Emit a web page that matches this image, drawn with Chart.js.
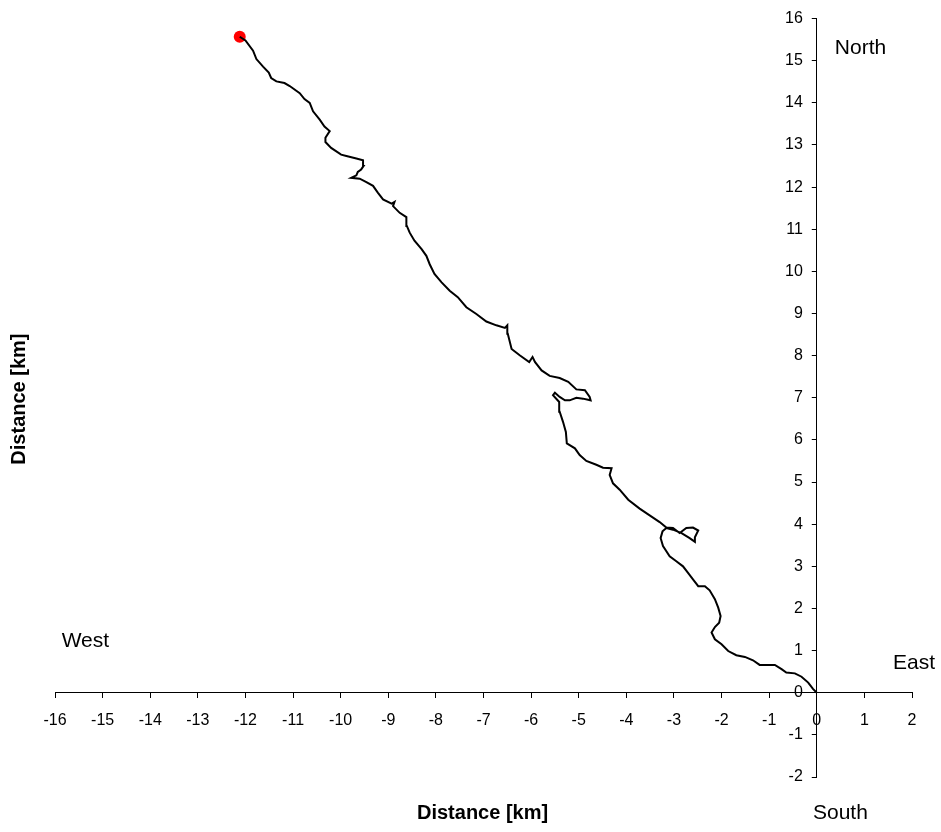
<!DOCTYPE html>
<html>
<head>
<meta charset="utf-8">
<script src="https://cdn.jsdelivr.net/npm/chart.js@4.4.1/dist/chart.umd.min.js"></script>
<style>
  html, body { margin: 0; padding: 0; background: #fff; }
  canvas { display: block; }
</style>
</head>
<body>
<canvas id="track-Chart" width="941" height="832"></canvas>
<script>
// track, from the start (0,0) to the current position (red dot)
const eastKm = [
  0, -0.08, -0.18, -0.32, -0.46, -0.64, -0.74, -0.88, -1.06, -1.20,
  -1.34, -1.51, -1.69, -1.86, -2.00, -2.14, -2.21, -2.14, -2.05, -2.02,
  -2.07, -2.14, -2.25, -2.35, -2.49, -2.60, -2.70, -2.81, -2.95, -3.09,
  -3.23, -3.28, -3.24, -3.16, -3.02, -2.84, -2.67, -2.56, -2.56, -2.49,
  -2.60, -2.74, -2.88, -3.02, -3.16, -3.30, -3.51, -3.72, -3.96, -4.14,
  -4.28, -4.35, -4.31, -4.49, -4.63, -4.84, -4.98, -5.08, -5.25, -5.27,
  -5.33, -5.40, -5.41, -5.54, -5.50, -5.40, -5.29, -5.19, -5.05, -4.91,
  -4.75, -4.77, -4.87, -5.05, -5.22, -5.40, -5.61, -5.78, -5.92, -5.97,
  -6.04, -6.24, -6.41, -6.49, -6.50, -6.55, -6.73, -6.94, -7.15, -7.36,
  -7.54, -7.71, -7.88, -8.03, -8.13, -8.20, -8.30, -8.45, -8.55, -8.61,
  -8.62, -8.76, -8.90, -8.87, -8.93, -9.11, -9.22, -9.32, -9.46, -9.60,
  -9.78, -9.67, -9.64, -9.57, -9.52, -9.53, -9.67, -9.88, -9.99, -10.20,
  -10.32, -10.32, -10.23, -10.34, -10.44, -10.58, -10.65, -10.76, -10.86, -11.07,
  -11.18, -11.35, -11.46, -11.51, -11.63, -11.77, -11.84, -12.00, -12.12
];
const northKm = [
  0, 0.09, 0.24, 0.38, 0.46, 0.48, 0.56, 0.66, 0.66, 0.66,
  0.77, 0.85, 0.89, 0.99, 1.15, 1.27, 1.43, 1.56, 1.66, 1.82,
  2.02, 2.22, 2.43, 2.53, 2.53, 2.69, 2.84, 3.00, 3.12, 3.24,
  3.48, 3.67, 3.83, 3.91, 3.87, 3.79, 3.67, 3.58, 3.69, 3.85,
  3.92, 3.91, 3.79, 3.91, 3.92, 4.05, 4.21, 4.37, 4.58, 4.82,
  4.97, 5.17, 5.33, 5.34, 5.41, 5.50, 5.64, 5.80, 5.92, 6.19,
  6.43, 6.67, 6.90, 7.06, 7.12, 7.02, 6.94, 6.94, 7.00, 6.98,
  6.94, 7.02, 7.18, 7.20, 7.38, 7.47, 7.52, 7.65, 7.85, 7.97,
  7.85, 8.01, 8.16, 8.52, 8.72, 8.66, 8.72, 8.81, 8.99, 9.15,
  9.39, 9.54, 9.74, 9.94, 10.17, 10.37, 10.53, 10.73, 10.92, 11.08,
  11.29, 11.39, 11.55, 11.65, 11.61, 11.71, 11.87, 12.03, 12.12, 12.20,
  12.22, 12.28, 12.36, 12.42, 12.50, 12.64, 12.68, 12.74, 12.77, 12.93,
  13.07, 13.17, 13.33, 13.44, 13.60, 13.80, 14.00, 14.09, 14.23, 14.40,
  14.47, 14.51, 14.59, 14.72, 14.86, 15.04, 15.24, 15.48, 15.57
];

// axis ranges
const xMin = -16, xMax = 2;
const yMin = -2, yMax = 16;

// texts placed in data units
const noteTexts = ["North", "West", "East", "South"];
const noteX = [0.38, -15.86, 1.6, -0.08];
const noteY = [15.3, 1.23, 0.69, -2.86];
const axisTitle = "Distance [km]";

const trackPoints = eastKm.map((x, i) => ({ x: x, y: northKm[i] }));
const lastPoint = trackPoints[trackPoints.length - 1];

const zeroSize = (scale) => {
  // axes sit on the zero lines, they take no room
  scale.width = 0;
  scale.height = 0;
};

// move the y axis onto x = 0 once the layout is done
const crossPlugin = {
  id: "crossAxes",
  afterLayout(chart) {
    const ys = chart.scales.y;
    const px = chart.scales.x.getPixelForValue(0);
    ys.left = px - 60;
    ys.right = px;
    ys.width = 60;
  },
};

const textPlugin = {
  id: "compassText",
  afterDraw(chart) {
    const ctx = chart.ctx;
    const xs = chart.scales.x;
    const ys = chart.scales.y;
    ctx.save();
    ctx.fillStyle = "#000";
    ctx.textBaseline = "middle";
    ctx.textAlign = "left";
    ctx.font = "21px 'Liberation Sans', Arial, sans-serif";
    noteTexts.forEach((t, i) => {
      ctx.fillText(t, xs.getPixelForValue(noteX[i]), ys.getPixelForValue(noteY[i]));
    });

    ctx.font = "bold 20px 'Liberation Sans', Arial, sans-serif";
    ctx.textAlign = "center";
    ctx.fillText(axisTitle, xs.getPixelForValue(-7.02), ys.getPixelForValue(-2.86));

    ctx.translate(xs.getPixelForValue(-16.74), ys.getPixelForValue(6.97));
    ctx.rotate(-Math.PI / 2);
    ctx.fillText(axisTitle, 0, 0);
    ctx.restore();
  },
};

const tickFont = { family: "'Liberation Sans', Arial, sans-serif", size: 16 };

const config = {
  type: "scatter",
  data: {
    datasets: [
      {
        data: trackPoints,
        showLine: true,
        borderColor: "#000",
        borderWidth: 2,
        pointRadius: 0,
        tension: 0,
      },
      {
        data: [lastPoint],
        pointRadius: 6,
        pointBackgroundColor: "#ff0000",
        pointBorderWidth: 0,
        showLine: false,
      },
    ],
  },
  options: {
    responsive: false,
    animation: false,
    layout: { padding: { left: 55, right: 29, top: 15, bottom: 55 } },
    plugins: {
      legend: { display: false },
      tooltip: { enabled: false },
    },
    scales: {
      x: {
        type: "linear",
        min: xMin,
        max: xMax,
        position: { y: 0 },
        afterFit: zeroSize,
        grid: { drawOnChartArea: false, drawTicks: true, tickLength: 5, color: "#000" },
        border: { display: true, color: "#000" },
        ticks: { stepSize: 1, color: "#000", font: tickFont, padding: 13, maxRotation: 0, autoSkip: false },
      },
      y: {
        type: "linear",
        min: yMin,
        max: yMax,
        position: "left",
        afterFit: zeroSize,
        grid: { drawOnChartArea: false, drawTicks: true, tickLength: 5, color: "#000" },
        border: { display: true, color: "#000" },
        ticks: { stepSize: 1, color: "#000", font: tickFont, padding: 9, autoSkip: false },
      },
    },
  },
  plugins: [crossPlugin, textPlugin],
};

let myChart = new Chart(document.getElementById("track-Chart"), config);
</script>
</body>
</html>
